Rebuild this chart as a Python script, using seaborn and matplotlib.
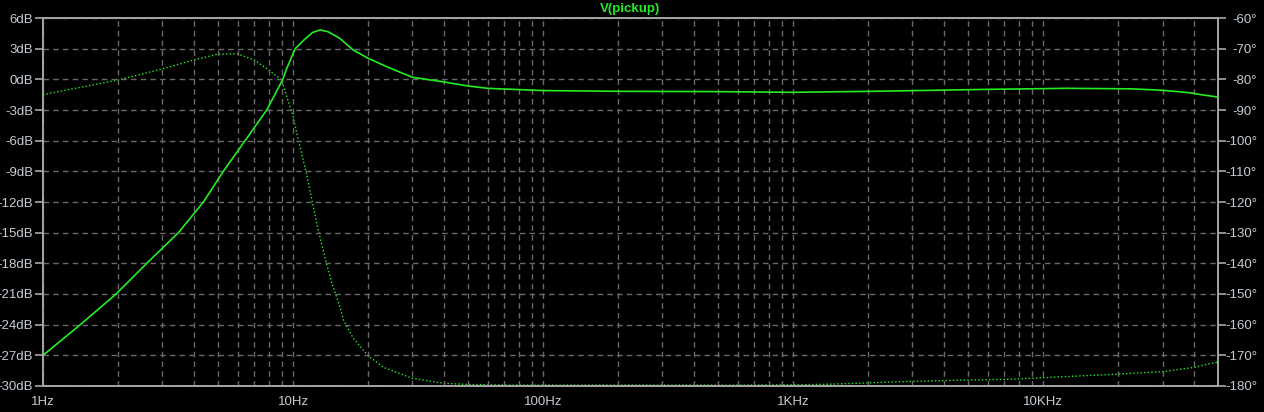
import matplotlib
matplotlib.use("Agg")
import matplotlib.pyplot as plt
import matplotlib.ticker as mticker
import numpy as np
import pandas as pd
import seaborn as sns

# magnitude (Hz, dB)
mag_freq = [1, 1.41, 1.96, 2.6, 3.48, 4.38, 5.26, 6.43, 7.85, 9.1, 9.44, 10.2,
            11.0, 11.95, 12.8, 13.8, 15.4, 17.4, 20, 23.7, 30, 40, 50, 60, 100,
            200, 478, 1000, 2080, 3500, 6000, 12400, 22500, 29000, 33400, 37000,
            40000, 42000, 44700, 48000, 50000]
mag_db = [-27, -24, -21, -18, -15, -12, -9, -6, -3, 0, 1.08, 3, 3.8, 4.57, 4.83,
          4.66, 4.0, 2.87, 2.05, 1.24, 0.2, -0.25, -0.65, -0.88, -1.1, -1.17,
          -1.2, -1.27, -1.17, -1.08, -0.98, -0.88, -0.93, -1.05, -1.17, -1.27,
          -1.37, -1.47, -1.57, -1.67, -1.76]

# phase (Hz, degrees)
ph_freq = [1, 2, 3, 4, 5, 6, 7, 8, 9, 9.44, 10, 10.35, 11.3, 12.6, 13.6, 14.3,
           15.4, 15.9, 17.4, 20, 23, 30, 40, 50, 74, 100, 640, 1070, 1400, 1820,
           2300, 3000, 4650, 7300, 10000, 20000, 30200, 40500, 45700, 50000]
ph_deg = [-85, -80.2, -76.6, -73.7, -71.8, -71.7, -73.7, -77, -80.2, -85.6, -92,
          -97.6, -110.6, -129.1, -140, -146.5, -154.1, -158.5, -164.4, -170.2,
          -173.9, -177.5, -179.1, -179.5, -179.7, -179.7, -179.7, -179.6,
          -179.4, -179.1, -178.8, -178.5, -178.1, -177.8, -177.3, -176.1,
          -175.3, -173.9, -172.8, -172.2]

df_mag = pd.DataFrame({"freq": mag_freq, "db": mag_db})
df_ph = pd.DataFrame({"freq": ph_freq, "deg": ph_deg})

sns.set_theme(style="dark", rc={
    "axes.facecolor": "black",
    "figure.facecolor": "black",
    "axes.edgecolor": "#a8a8a8",
    "axes.linewidth": 1.2,
})
plt.rcParams["font.family"] = ["Liberation Sans", "DejaVu Sans"]

green = "#22ee22"
label_col = "#c4ccd4"
grid_col = "#6a6a6a"

fig = plt.figure(figsize=(12.64, 4.12), dpi=100)
ax = fig.add_axes([43 / 1264, 1 - 386 / 412, 1175 / 1264, 368 / 412])
ax2 = ax.twinx()

sns.lineplot(data=df_mag, x="freq", y="db", ax=ax, color=green, linewidth=1.2)
sns.lineplot(data=df_ph, x="freq", y="deg", ax=ax2, color=green, linewidth=1.0,
             linestyle=(0, (1, 1.6)))

ax.set_xscale("log")
ax.set_xlim(1, 50000)
ax.set_ylim(-30, 6)
ax2.set_ylim(-180, -60)

ax.set_yticks(np.arange(-30, 7, 3))
ax.set_yticklabels([f"{v}dB" for v in range(-30, 7, 3)])
ax2.set_yticks(np.arange(-180, -59, 10))
ax2.set_yticklabels([f"{v}°" for v in range(-180, -59, 10)], ha="right")

ax.xaxis.set_major_locator(mticker.FixedLocator([1, 10, 100, 1000, 10000]))
ax.xaxis.set_major_formatter(mticker.FixedFormatter(["1Hz", "10Hz", "100Hz", "1KHz", "10KHz"]))
ax.xaxis.set_minor_locator(mticker.LogLocator(base=10, subs=np.arange(2, 10)))
ax.xaxis.set_minor_formatter(mticker.NullFormatter())

ax.grid(True, which="both", axis="x", color=grid_col, linestyle=(0, (4, 3)), linewidth=1)
ax.grid(True, which="major", axis="y", color=grid_col, linestyle=(0, (4, 3)), linewidth=1)
ax2.grid(False)

ax.set_xlabel("")
ax.set_ylabel("")
ax2.set_ylabel("")

for a in (ax, ax2):
    a.tick_params(axis="both", which="both", colors="#a8a8a8", labelcolor=label_col,
                  labelsize=9.5, width=1.2, direction="out")
    for s in a.spines.values():
        s.set_color("#a8a8a8")
ax.tick_params(axis="y", length=6, pad=1)
ax.tick_params(axis="x", which="minor", length=2.5)
ax.tick_params(axis="x", which="major", length=5, pad=2)
ax2.tick_params(axis="y", length=6, pad=22)
ax.set_zorder(ax2.get_zorder() + 1)
ax.patch.set_visible(False)

ax.set_title("V(pickup)", color=green, fontsize=9.5, fontweight="bold", pad=4)

fig.savefig("out.png", dpi=100, facecolor="black")
